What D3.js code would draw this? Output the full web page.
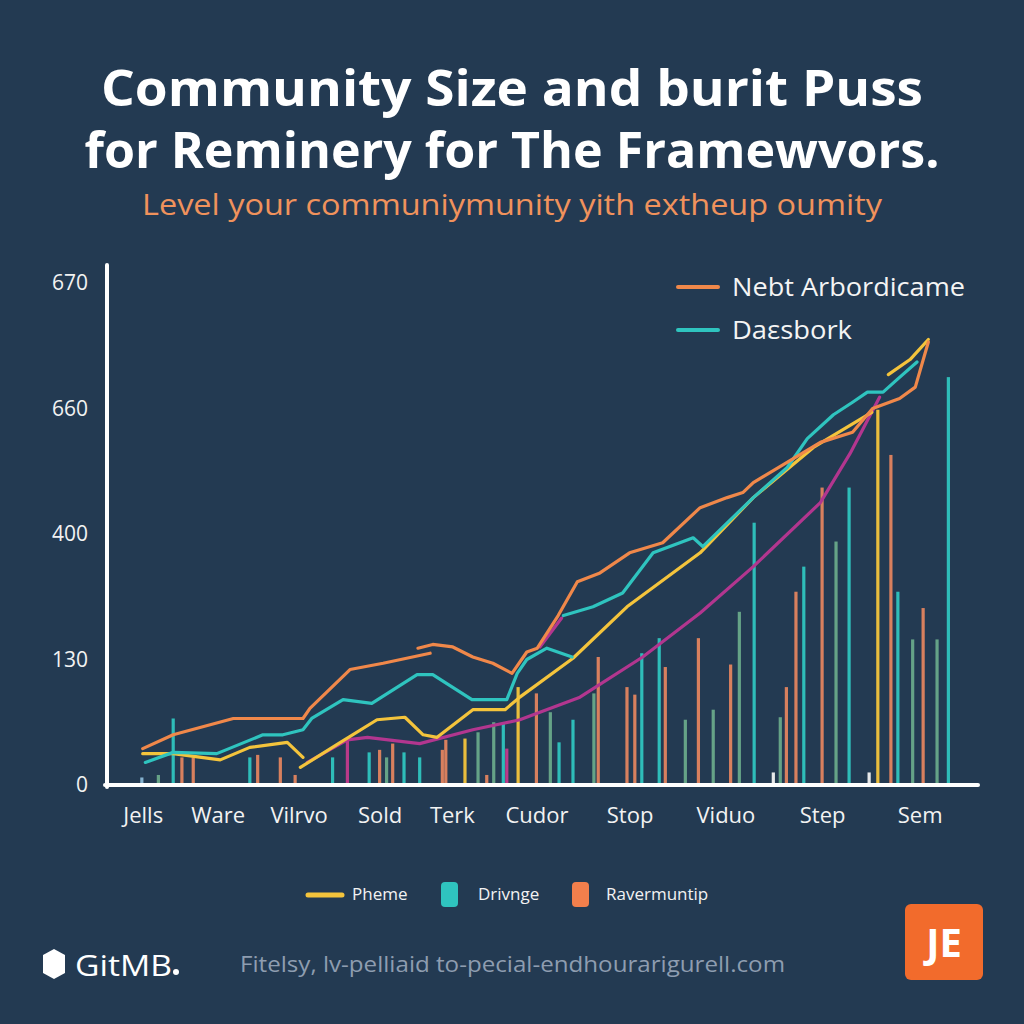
<!DOCTYPE html>
<html><head><meta charset="utf-8">
<script src="https://cdn.jsdelivr.net/npm/d3@7"></script>
<style>html,body{margin:0;padding:0;background:#233a52;}svg{display:block;}</style>
</head><body>
<svg id="c" width="1024" height="1024"></svg>
<script>
// ---- data ----
const titleLines = ["Community Size and burit Puss", "for Reminery for The Framewvors."];
const subtitle = "Level your communiymunity yith extheup oumity";
const xTickLabels = ["Jells","Ware","Vilrvo","Sold","Terk","Cudor","Stop","Viduo","Step","Sem"];
const xTickValues = [4.1,12.7,22.0,31.3,39.6,49.3,60.0,71.0,82.1,93.3];
const yTickLabels = ["0","130","400","660","670"];
const yTickValues = [0,1,2,3,4];

const orangeA = [[4.1,0.29],[7.6,0.40],[14.5,0.53],[22.5,0.53],[23.3,0.61],[27.9,0.92],[31.7,0.97],[37.1,1.05]];
const orangeB = [[35.7,1.09],[37.4,1.12],[39.7,1.10],[42.0,1.02],[44.3,0.97],[46.5,0.89],[48.2,1.06],[49.4,1.09],[51.8,1.35],[54.0,1.62],[56.6,1.69],[60.0,1.85],[63.8,1.93],[68.1,2.21],[71.2,2.29],[73.0,2.33],[74.2,2.41],[77.6,2.55],[81.9,2.73],[85.6,2.81],[87.9,3.00],[91.0,3.08],[92.8,3.17],[94.3,3.53]];
const tealA = [[4.4,0.18],[7.6,0.26],[12.6,0.25],[17.9,0.40],[20.2,0.40],[22.5,0.44],[23.5,0.53],[27.1,0.68],[30.4,0.65],[35.6,0.88],[37.4,0.88],[41.9,0.68],[45.9,0.68],[47.1,0.89],[48.2,1.00],[50.5,1.09],[53.4,1.02]];
const tealB = [[52.4,1.35],[55.8,1.42],[59.2,1.53],[62.7,1.85],[67.3,1.97],[68.4,1.90],[74.2,2.29],[78.1,2.53],[80.4,2.76],[83.4,2.95],[85.6,3.05],[87.3,3.13],[89.1,3.13],[90.7,3.23],[93.0,3.37]];
const yellowA = [[4.1,0.25],[7.6,0.25],[13.0,0.20],[16.4,0.30],[20.7,0.34],[22.5,0.22]];
const yellowB = [[22.2,0.14],[26.8,0.34],[31.0,0.52],[34.2,0.54],[36.3,0.40],[37.9,0.38],[42.0,0.60],[45.7,0.60],[47.4,0.70],[53.5,1.01],[59.7,1.42],[68.1,1.85],[74.2,2.29],[81.1,2.69],[87.8,2.97]];
const yellowC = [[89.7,3.27],[92.2,3.39],[94.3,3.55]];
const purpleA = [[23.0,0.18],[27.6,0.36],[29.9,0.38],[35.9,0.33],[42.0,0.44],[47.4,0.52],[54.3,0.70],[61.5,1.02],[68.1,1.37],[74.2,1.74],[81.9,2.25],[85.3,2.64],[88.7,3.09]];
const purpleB = [[49.7,1.10],[52.2,1.33]];

const barX = [4.0,5.9,7.6,8.6,9.9,16.4,17.3,19.9,21.6,25.9,27.6,30.1,31.3,32.1,32.8,34.1,35.9,38.5,38.9,41.1,42.6,43.6,44.4,45.5,45.9,47.2,49.3,50.9,51.9,53.5,55.9,56.4,59.7,60.6,61.4,63.4,64.1,66.4,67.9,69.6,71.6,72.6,74.3,76.5,77.3,78.0,79.1,80.0,82.1,83.7,85.2,87.5,88.5,90.0,90.8,92.5,93.7,95.3,96.6];
const barValue = [0.06,0.08,0.53,0.22,0.22,0.22,0.24,0.22,0.08,0.22,0.36,0.26,0.28,0.22,0.33,0.26,0.22,0.28,0.36,0.37,0.42,0.08,0.50,0.50,0.29,0.78,0.73,0.58,0.34,0.52,0.73,1.02,0.78,0.72,1.05,1.17,0.94,0.52,1.17,0.60,0.96,1.38,2.09,0.10,0.54,0.78,1.54,1.74,2.37,1.94,2.37,0.10,2.99,2.63,1.54,1.16,1.41,1.16,3.25];
const barGroup = ["blue","sage","teal","salmon","salmon","teal","salmon","salmon","salmon","teal","pink","teal","salmon","sage","salmon","teal","teal","salmon","salmon","yellow","sage","salmon","sage","teal","pink","yellow","salmon","sage","teal","teal","sage","salmon","salmon","salmon","teal","teal","salmon","sage","salmon","sage","salmon","sage","teal","white","sage","salmon","salmon","teal","salmon","sage","teal","white","yellow","salmon","teal","sage","salmon","sage","teal"];

const topLegend = [["Nebt Arbordicame","orange"],["Daεsbork","teal"]];
const bottomLegend = [["Pheme","yellow","line"],["Drivnge","teal","box"],["Ravermuntip","salmonBox","box"]];
const footerBrand = "GitMB";
const footerText = "Fitelsy, lv-pelliaid to-pecial-endhourarigurell.com";
const badgeText = "JE";

// ---- styles ----
const colors = {orange:"#f0884a", teal:"#2fc4bf", yellow:"#f4c43c", purple:"#b2368f",
  salmon:"#e3845f", sage:"#69a98a", blue:"#8ab8d6", pink:"#c23a8c", white:"#f2f2f2", salmonBox:"#f27f4c"};

const svg = d3.select("#c");
svg.append("rect").attr("width",1024).attr("height",1024).attr("fill","#233a52");

const font = "'Open Sans', 'Noto Sans', sans-serif";

// title
const tl = [[106, 822],[168, 855]];
titleLines.forEach((t,i)=>{
  svg.append("text").attr("x",512).attr("y",tl[i][0]).attr("text-anchor","middle")
    .attr("font-family",font).attr("font-weight",700).attr("font-size",50).attr("fill","#ffffff")
    .attr("textLength",tl[i][1]).attr("lengthAdjust","spacingAndGlyphs").text(t);
});
svg.append("text").attr("x",512).attr("y",215).attr("text-anchor","middle")
  .attr("font-family",font).attr("font-size",30).attr("fill","#f0925c")
  .attr("textLength",740).attr("lengthAdjust","spacingAndGlyphs").text(subtitle);

// scales
const x = d3.scaleLinear().domain([0,100]).range([107,978]);
const y = d3.scaleLinear().domain([0,4]).range([785,283]);

// bars
svg.append("g").selectAll("rect").data(barX).join("rect")
  .attr("x",(d)=>x(d)-1.6).attr("width",3.2)
  .attr("y",(d,i)=>y(barValue[i])).attr("height",(d,i)=>y(0)-y(barValue[i]))
  .attr("fill",(d,i)=>colors[barGroup[i]]).attr("opacity",0.95);

// lines
const line = d3.line().x(d=>x(d[0])).y(d=>y(d[1]));
[[purpleA,"purple"],[purpleB,"purple"],[yellowA,"yellow"],[yellowB,"yellow"],[yellowC,"yellow"],
 [tealA,"teal"],[tealB,"teal"],[orangeA,"orange"],[orangeB,"orange"]].forEach(([d,c])=>{
  svg.append("path").attr("d",line(d)).attr("fill","none").attr("stroke",colors[c])
    .attr("stroke-width",3.2).attr("stroke-linejoin","round").attr("stroke-linecap","round");
});

// axes
const yAxis = svg.append("g").attr("transform","translate(107,0)")
  .call(d3.axisLeft(y).tickValues(yTickValues).tickFormat((d,i)=>yTickLabels[i]).tickSize(0).tickPadding(19));
yAxis.select(".domain").remove();
yAxis.selectAll("text").attr("font-family",font).attr("font-size",21).attr("fill","#f2f2f2");
svg.append("line").attr("x1",107).attr("x2",107).attr("y1",265).attr("y2",787)
  .attr("stroke","#ffffff").attr("stroke-width",4).attr("stroke-linecap","round");

const xAxis = svg.append("g").attr("transform","translate(0,785)")
  .call(d3.axisBottom(x).tickValues(xTickValues).tickFormat((d,i)=>xTickLabels[i]).tickSize(0).tickPadding(22));
xAxis.select(".domain").remove();
xAxis.selectAll("text").attr("font-family",font).attr("font-size",22).attr("fill","#f2f2f2");
svg.append("line").attr("x1",105).attr("x2",978).attr("y1",785).attr("y2",785)
  .attr("stroke","#ffffff").attr("stroke-width",4).attr("stroke-linecap","round");

// top legend
const tlw = [233, 120];
topLegend.forEach((d,i)=>{
  const yy = 287 + i*43;
  svg.append("line").attr("x1",678).attr("x2",718).attr("y1",yy).attr("y2",yy)
    .attr("stroke",colors[d[1]]).attr("stroke-width",4).attr("stroke-linecap","round");
  svg.append("text").attr("x",732).attr("y",yy+9).attr("font-family",font).attr("font-size",26)
    .attr("fill","#f4f4f4").attr("textLength",tlw[i]).attr("lengthAdjust","spacingAndGlyphs").text(d[0]);
});

// bottom legend
const blx = [305, 441, 572];
const btx = [352, 478, 606];
bottomLegend.forEach((d,i)=>{
  if(d[2]==="line"){
    svg.append("line").attr("x1",blx[i]+3).attr("x2",blx[i]+37).attr("y1",895).attr("y2",895)
      .attr("stroke",colors[d[1]]).attr("stroke-width",5).attr("stroke-linecap","round");
  } else {
    svg.append("rect").attr("x",blx[i]).attr("y",882).attr("width",17).attr("height",25).attr("rx",4)
      .attr("fill",colors[d[1]]);
  }
  svg.append("text").attr("x",btx[i]).attr("y",900).attr("font-family",font).attr("font-size",17)
    .attr("fill","#f2f2f2").text(d[0]);
});

// footer
svg.append("path").attr("d","M43,955 L54,949 L65,955 L65,973 L54,979 L43,973 Z").attr("fill","#ffffff");
svg.append("text").attr("x",75).attr("y",976).attr("font-family",font).attr("font-size",30)
  .attr("fill","#ffffff").attr("textLength",97).attr("lengthAdjust","spacingAndGlyphs").text(footerBrand);
svg.append("circle").attr("cx",176).attr("cy",972).attr("r",3).attr("fill","#ffffff");
svg.append("text").attr("x",240).attr("y",972).attr("font-family",font).attr("font-size",21)
  .attr("fill","#8e9db0").attr("textLength",545).attr("lengthAdjust","spacingAndGlyphs").text(footerText);
svg.append("rect").attr("x",905).attr("y",904).attr("width",78).attr("height",76).attr("rx",6).attr("fill","#f26b2c");
svg.append("text").attr("x",944).attr("y",957).attr("text-anchor","middle").attr("font-family",font)
  .attr("font-weight",700).attr("font-size",40).attr("fill","#ffffff").text(badgeText);
</script>
</body></html>
